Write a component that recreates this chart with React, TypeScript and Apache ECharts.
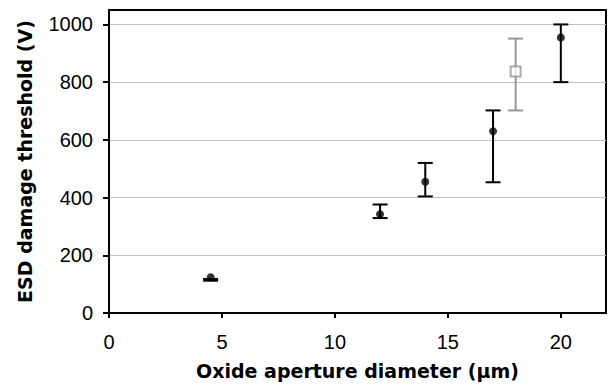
import React, { useEffect, useRef } from "react";
import * as echarts from "echarts";

const blackX = [4.5, 12, 14, 17, 20];
const blackY = [124, 342, 455, 630, 955];
const blackLow = [112, 329, 404, 453, 800];
const blackHigh = [118, 376, 520, 702, 1000];

const grayX = [18];
const grayY = [837];
const grayLow = [702];
const grayHigh = [951];

const xTicks = [0, 5, 10, 15, 20];
const yTicks = [0, 200, 400, 600, 800, 1000];

const xTitle = "Oxide aperture diameter (µm)";
const yTitle = "ESD damage threshold (V)";

function errorSeries(xs: number[], lows: number[], highs: number[], color: string) {
  return {
    type: "custom",
    data: xs.map((x, i) => [x, lows[i], highs[i]]),
    encode: { x: 0, y: [1, 2] },
    z: 2,
    renderItem: (params: any, api: any) => {
      const x = api.value(0);
      const lo = api.coord([x, api.value(1)]);
      const hi = api.coord([x, api.value(2)]);
      const hw = 7.5;
      const style = { stroke: color, lineWidth: 2 };
      return {
        type: "group",
        children: [
          { type: "line", shape: { x1: lo[0], y1: lo[1], x2: hi[0], y2: hi[1] }, style },
          { type: "line", shape: { x1: lo[0] - hw, y1: lo[1], x2: lo[0] + hw, y2: lo[1] }, style },
          { type: "line", shape: { x1: hi[0] - hw, y1: hi[1], x2: hi[0] + hw, y2: hi[1] }, style },
        ],
      };
    },
  };
}

export default function App() {
  const ref = useRef<HTMLDivElement>(null);
  useEffect(() => {
    if (!ref.current) return;
    const chart = echarts.init(ref.current, null, { renderer: "svg" });
    const font = "Liberation Sans, Arial, sans-serif";
    const titleFont = "DejaVu Sans, sans-serif";
    chart.setOption({
      animation: false,
      grid: {
        left: 109,
        right: 4,
        top: 10,
        bottom: 74,
        show: true,
        borderColor: "#000",
        borderWidth: 2,
        backgroundColor: "transparent",
      },
      xAxis: {
        type: "value",
        min: 0,
        max: 22,
        interval: 5,
        name: xTitle,
        nameLocation: "middle",
        nameGap: 48,
        nameTextStyle: { fontFamily: titleFont, fontSize: 19, fontWeight: "bold", color: "#000" },
        axisLine: { show: true, lineStyle: { color: "#000", width: 2 } },
        axisTick: { show: true, length: 5, lineStyle: { color: "#000", width: 2 }, customValues: xTicks },
        axisLabel: {
          customValues: xTicks,
          formatter: (v: number) => String(v),
          fontFamily: font,
          fontSize: 20,
          color: "#000",
          margin: 19,
        },
        splitLine: { show: false },
      },
      yAxis: {
        type: "value",
        min: 0,
        max: 1050,
        interval: 200,
        name: yTitle,
        nameLocation: "middle",
        nameGap: 75,
        nameRotate: 90,
        nameTextStyle: { fontFamily: titleFont, fontSize: 19, fontWeight: "bold", color: "#000" },
        axisLine: { show: true, lineStyle: { color: "#000", width: 2 } },
        axisTick: { show: true, length: 6, lineStyle: { color: "#000", width: 2 }, customValues: yTicks },
        axisLabel: {
          customValues: yTicks,
          formatter: (v: number) => String(v),
          fontFamily: font,
          fontSize: 20,
          color: "#000",
          margin: 16,
        },
        splitLine: { show: true, lineStyle: { color: "#c0c0c0", width: 1 } },
      },
      series: [
        errorSeries(blackX, blackLow, blackHigh, "#000"),
        errorSeries(grayX, grayLow, grayHigh, "#969696"),
        {
          type: "scatter",
          data: blackX.map((x, i) => [x, blackY[i]]),
          symbol: "circle",
          symbolSize: 8,
          itemStyle: { color: "#000" },
          z: 3,
        },
        {
          type: "scatter",
          data: grayX.map((x, i) => [x, grayY[i]]),
          symbol: "rect",
          symbolSize: 10,
          itemStyle: { color: "#fff", borderColor: "#969696", borderWidth: 2 },
          z: 3,
        },
      ],
    });
    return () => chart.dispose();
  }, []);
  return <div ref={ref} style={{ width: 610, height: 387, position: "absolute", left: 0, top: 0 }} />;
}
